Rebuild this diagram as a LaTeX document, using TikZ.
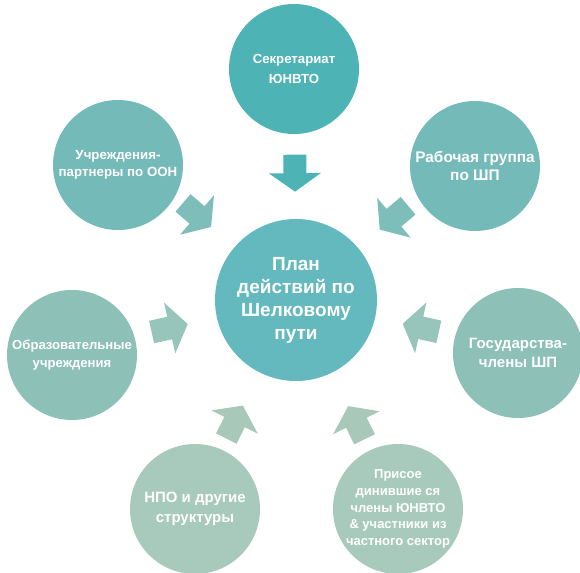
\documentclass[tikz,border=0pt]{standalone}
\usepackage{fontspec}
\setmainfont{Liberation Sans}
\usetikzlibrary{calc}

\definecolor{hubA}{HTML}{4DB3B5}
\definecolor{hubC}{HTML}{63B9BD}
\definecolor{hubB}{HTML}{74BAB8}
\definecolor{hubD}{HTML}{8DC0B7}
\definecolor{hubE}{HTML}{A8CABC}
\definecolor{arrB}{HTML}{7DBEBB}
\definecolor{arrD}{HTML}{97C5BB}
\definecolor{arrE}{HTML}{A8C9BA}

\begin{document}
\begin{tikzpicture}[
    x=1pt, y=-1pt,
    font=\bfseries,
    hub/.style = {
        circle, fill=#1, text=white, align=center,
        inner sep=0pt, minimum size=130pt
    },
    pics/blockarrow/.style = {code = {
        \fill[#1] (-18.5,-11.5) -- (0,-11.5) -- (0,-26) -- (18.5,0)
            -- (0,26) -- (0,11.5) -- (-18.5,11.5) -- cycle;
    }},
]
\useasboundingbox (0,0) rectangle (580,572);

\node[hub=hubC, minimum size=162pt, font=\bfseries\fontsize{19}{23}\selectfont]
    (plan) at (296,300) {План\\действий по\\Шелковому\\пути};

\node[hub=hubA, font=\bfseries\fontsize{13.2}{20}\selectfont]
    (sec) at (294,69) {Секретариат\\ЮНВТО};
\node[hub=hubB, font=\bfseries\fontsize{13.3}{17}\selectfont]
    (uch) at (118,165) {Учреждения-\\партнеры по ООН};
\node[hub=hubB, font=\bfseries\fontsize{15.4}{18}\selectfont]
    (rab) at (475,166) {Рабочая группа\\по ШП};
\node[hub=hubD, font=\bfseries\fontsize{13.1}{18}\selectfont]
    (obr) at (72,355) {Образовательные\\учреждения};
\node[hub=hubD, font=\bfseries\fontsize{15}{19}\selectfont]
    (gos) at (518,353) {Государства-\\члены ШП};
\node[hub=hubE, font=\bfseries\fontsize{15}{20}\selectfont]
    (npo) at (195,509) {НПО и другие\\структуры};
\node[hub=hubE, font=\bfseries\fontsize{13}{16.7}\selectfont]
    (pris) at (398,509) {Присое\\динившие ся\\члены ЮНВТО\\\& участники из\\частного сектор};

% arrows pointing to the plan
\path let \p1 = ($(sec)!0.451!(plan)$), \p2 = ($(plan)-(\p1)$),
    \n1 = {atan2(\y2,\x2)} in (\p1) pic[rotate=\n1] {blockarrow=hubA};
\path let \p1 = ($(uch)!0.444!(plan) + (0,-10)$), \p2 = ($(plan)-(\p1)$),
    \n1 = {atan2(\y2,\x2)} in (\p1) pic[rotate=\n1] {blockarrow=arrB};
\path let \p1 = ($(rab)!0.453!(plan) + (0,-9)$), \p2 = ($(plan)-(\p1)$),
    \n1 = {atan2(\y2,\x2)} in (\p1) pic[rotate=\n1] {blockarrow=arrB};
\path let \p1 = ($(obr)!0.436!(plan) + (0,-3)$), \p2 = ($(plan)-(\p1)$),
    \n1 = {atan2(\y2,\x2)} in (\p1) pic[rotate=\n1] {blockarrow=arrD};
\path let \p1 = ($(gos)!0.438!(plan) + (0,-2)$), \p2 = ($(plan)-(\p1)$),
    \n1 = {atan2(\y2,\x2)} in (\p1) pic[rotate=\n1] {blockarrow=arrD};
\path let \p1 = ($(npo)!0.392!(plan) + (0,-5)$), \p2 = ($(plan)-(\p1)$),
    \n1 = {atan2(\y2,\x2)} in (\p1) pic[rotate=\n1] {blockarrow=arrE};
\path let \p1 = ($(pris)!0.408!(plan) + (0,-1)$), \p2 = ($(plan)-(\p1)$),
    \n1 = {atan2(\y2,\x2)} in (\p1) pic[rotate=\n1] {blockarrow=arrE};

\end{tikzpicture}
\end{document}
